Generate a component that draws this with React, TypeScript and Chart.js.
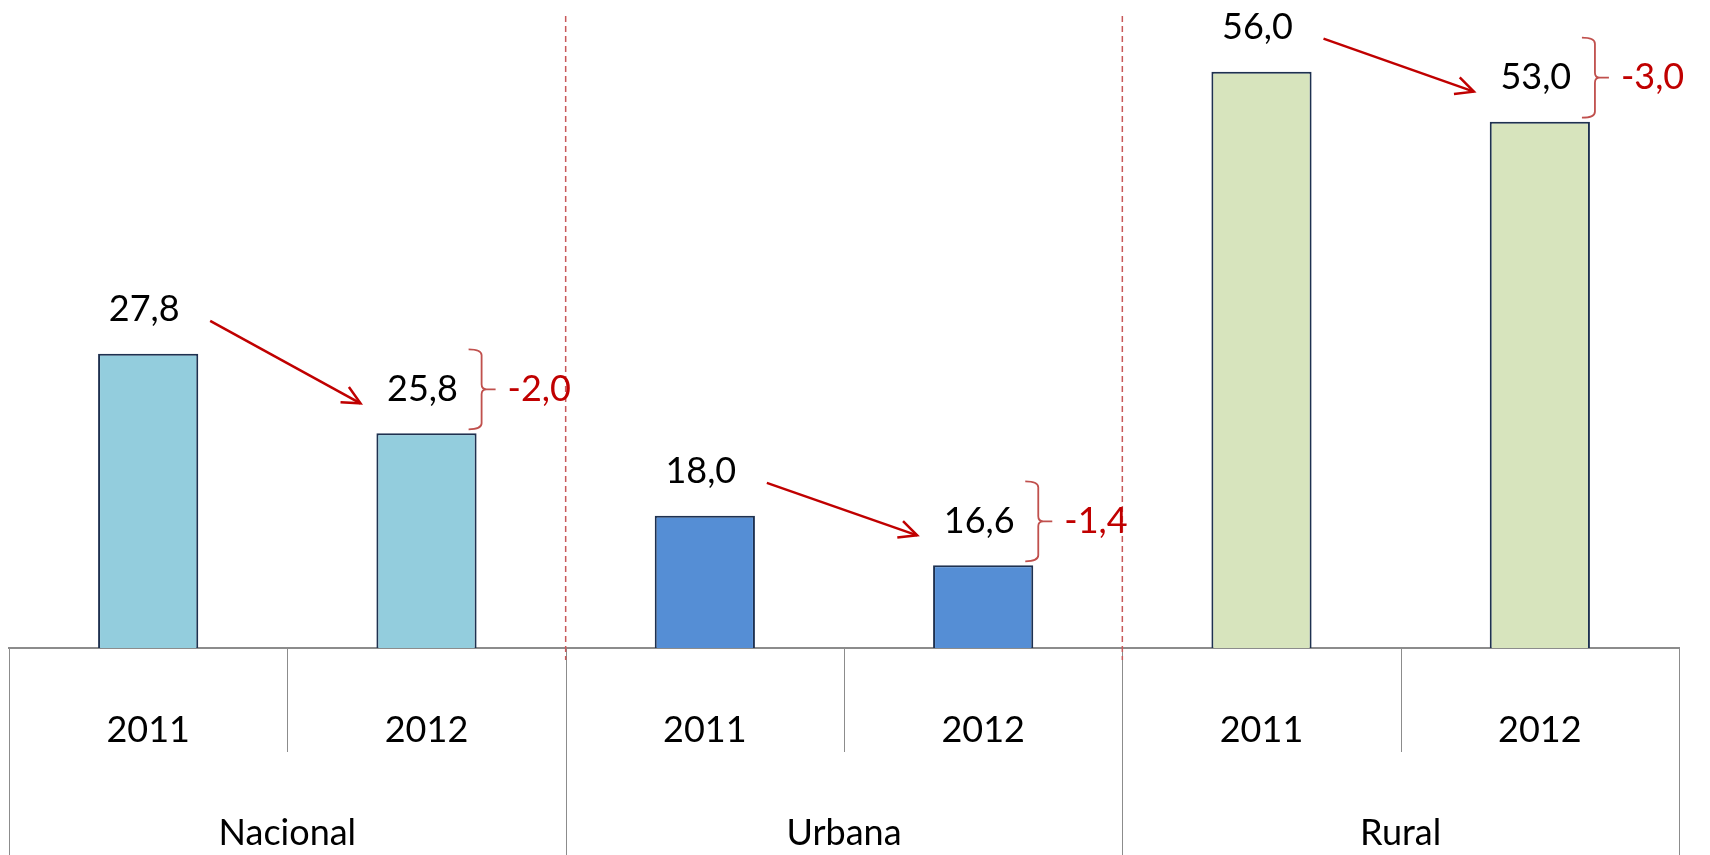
import React, { useEffect, useRef } from 'react';
import { Chart, registerables } from 'chart.js';

Chart.register(...registerables);

// ---- data ----
const years = ['2011', '2012', '2011', '2012', '2011', '2012'];
const groups = ['Nacional', 'Urbana', 'Rural'];
const nacional: (number | null)[] = [27.8, 25.8, null, null, null, null];
const urbana: (number | null)[] = [null, null, 18.0, 16.6, null, null];
const rural: (number | null)[] = [null, null, null, null, 56.0, 53.0];

// each group in the original is drawn on its own (hidden) value scale
const nacionalRange = { min: 20.4, max: 36.7 };
const urbanaRange = { min: 14.26, max: 32.6 };
const ruralRange = { min: 21.42, max: 60.3 };

const FONT = "Lato, 'Open Sans', sans-serif";
const LABEL_SIZE = 36;
const LINE_H = LABEL_SIZE * 1.2;
const fmt = (v: number) => v.toFixed(1).replace('.', ',');

const annotations = {
  id: 'annotations',
  afterDraw(chart: any) {
    const ctx: CanvasRenderingContext2D = chart.ctx;
    const area = chart.chartArea;
    const xs = chart.scales.x;
    const slot = (area.right - area.left) / years.length;
    ctx.save();

    // table-like category lines below the axis
    ctx.strokeStyle = '#8C8C8C';
    ctx.lineWidth = 1;
    for (let i = 0; i <= years.length; i++) {
      const px = Math.round(xs.getPixelForValue(Math.min(i, years.length - 1)) + (i < years.length ? -slot / 2 : slot / 2)) + 0.5;
      const long = i % 2 === 0;
      ctx.beginPath();
      ctx.moveTo(px, area.bottom);
      ctx.lineTo(px, long ? chart.height : area.bottom + 104);
      ctx.stroke();
    }

    // dashed separators between groups
    ctx.strokeStyle = '#C8595A';
    ctx.lineWidth = 1.5;
    ctx.setLineDash([6, 4]);
    for (let g = 1; g < groups.length; g++) {
      const px = (xs.getPixelForValue(2 * g - 1) + xs.getPixelForValue(2 * g)) / 2;
      ctx.beginPath();
      ctx.moveTo(px, area.top + 16);
      ctx.lineTo(px, area.bottom + 12);
      ctx.stroke();
    }
    ctx.setLineDash([]);

    chart.data.datasets.forEach((ds: any, di: number) => {
      const meta = chart.getDatasetMeta(di);
      const pts: { v: number; el: any }[] = [];
      ds.data.forEach((v: number | null, i: number) => {
        if (v != null) pts.push({ v, el: meta.data[i] });
      });

      // value labels
      ctx.fillStyle = '#000000';
      ctx.font = `${LABEL_SIZE}px ${FONT}`;
      ctx.textAlign = 'center';
      ctx.textBaseline = 'middle';
      pts.forEach((p) => ctx.fillText(fmt(p.v), p.el.x - 4, p.el.y - 44));

      if (pts.length === 2) {
        const a = pts[0];
        const b = pts[1];
        // arrow
        const sx = a.el.x + 62;
        const sy = a.el.y - 44 + 11;
        const ex = b.el.x - 66;
        const ey = b.el.y - 44 + 14;
        ctx.strokeStyle = '#C00000';
        ctx.lineWidth = 2.5;
        ctx.beginPath();
        ctx.moveTo(sx, sy);
        ctx.lineTo(ex, ey);
        ctx.stroke();
        const ang = Math.atan2(ey - sy, ex - sx);
        const hl = 20;
        ctx.beginPath();
        ctx.moveTo(ex - hl * Math.cos(ang - 0.45), ey - hl * Math.sin(ang - 0.45));
        ctx.lineTo(ex, ey);
        ctx.lineTo(ex - hl * Math.cos(ang + 0.45), ey - hl * Math.sin(ang + 0.45));
        ctx.stroke();

        // brace
        const vx = b.el.x + b.el.width / 2 + 5;
        const yM = b.el.y - 44;
        const yT = yM - 40;
        const yB = yM + 40;
        ctx.strokeStyle = '#C0504D';
        ctx.lineWidth = 1.8;
        ctx.beginPath();
        ctx.moveTo(vx - 13, yT);
        ctx.quadraticCurveTo(vx, yT, vx, yT + 6);
        ctx.lineTo(vx, yM - 5);
        ctx.quadraticCurveTo(vx, yM, vx + 5, yM);
        ctx.lineTo(vx + 14, yM);
        ctx.moveTo(vx + 5, yM);
        ctx.quadraticCurveTo(vx, yM, vx, yM + 5);
        ctx.lineTo(vx, yB - 6);
        ctx.quadraticCurveTo(vx, yB, vx - 13, yB);
        ctx.stroke();

        // difference
        ctx.fillStyle = '#C00000';
        ctx.textAlign = 'left';
        ctx.fillText(fmt(b.v - a.v), vx + 26, yM);
      }
    });
    ctx.restore();
  },
};

export default function App() {
  const ref = useRef<HTMLCanvasElement | null>(null);

  useEffect(() => {
    if (!ref.current) return;
    const barStyle = {
      borderColor: '#1E3150',
      borderWidth: 2,
      borderSkipped: false,
      grouped: false,
      categoryPercentage: 1,
      barPercentage: 0.36,
    };
    const tickFont = { family: FONT, size: LABEL_SIZE, lineHeight: 1.2 };
    const chart = new Chart(ref.current, {
      type: 'bar',
      data: {
        labels: years,
        datasets: [
          { label: groups[0], data: nacional, backgroundColor: '#93CDDD', yAxisID: 'yN', ...barStyle },
          { label: groups[1], data: urbana, backgroundColor: '#558ED5', yAxisID: 'yU', ...barStyle },
          { label: groups[2], data: rural, backgroundColor: '#D7E4BD', yAxisID: 'yR', ...barStyle },
        ] as any,
      },
      options: {
        animation: false,
        responsive: true,
        maintainAspectRatio: false,
        layout: { padding: { left: 9, right: 31, top: 0, bottom: 0 } },
        plugins: { legend: { display: false }, tooltip: { enabled: false } },
        scales: {
          x: {
            type: 'category',
            position: 'bottom',
            offset: true,
            grid: { display: true, drawOnChartArea: false, drawTicks: false, offset: true },
            border: { display: true, color: '#8C8C8C', width: 2 },
            ticks: {
              color: '#000000',
              font: tickFont,
              padding: 82 - LINE_H / 2,
              autoSkip: false,
              maxRotation: 0,
            },
          },
          x2: {
            type: 'category',
            position: 'bottom',
            labels: groups,
            offset: true,
            grid: { display: true, drawOnChartArea: false, drawTicks: false, offset: true },
            border: { display: false },
            ticks: {
              color: '#000000',
              font: tickFont,
              padding: (43 - LINE_H) / 2,
              autoSkip: false,
              maxRotation: 0,
            },
          },
          yN: { display: false, min: nacionalRange.min, max: nacionalRange.max },
          yU: { display: false, min: urbanaRange.min, max: urbanaRange.max },
          yR: { display: false, min: ruralRange.min, max: ruralRange.max },
        },
      } as any,
      plugins: [annotations],
    });
    return () => chart.destroy();
  }, []);

  return (
    <div style={{ position: 'fixed', left: 0, top: 0, width: 1710, height: 855, background: '#ffffff' }}>
      <canvas ref={ref} />
    </div>
  );
}
